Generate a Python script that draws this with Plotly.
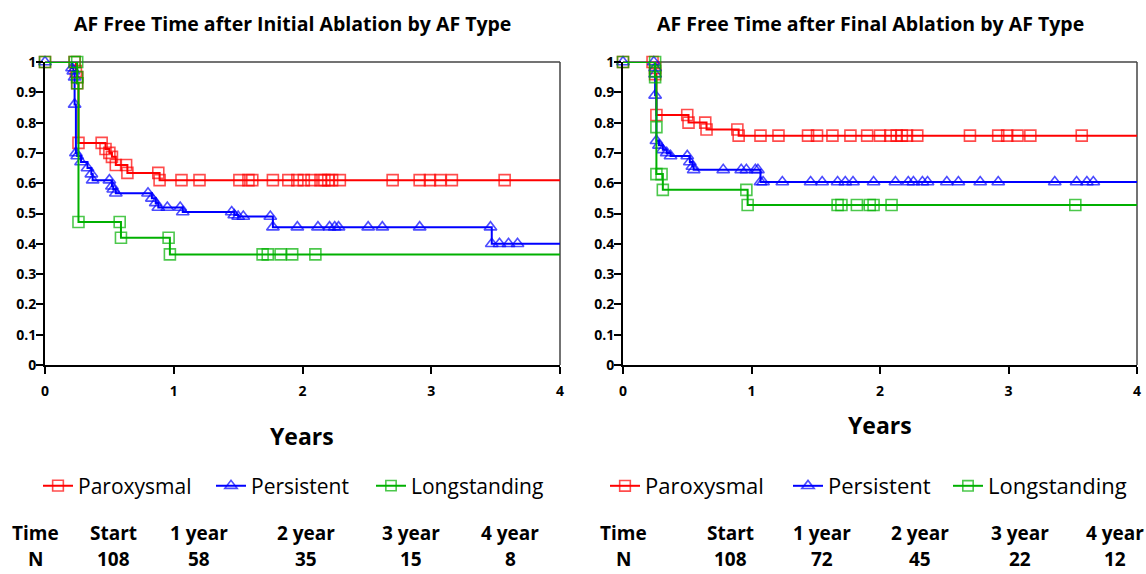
import plotly.graph_objects as go

# ---------------- data ----------------
# Left panel: after initial ablation
init_par_t = [0, 0.23, 0.24, 0.25, 0.25, 0.26, 0.44, 0.47, 0.50, 0.52, 0.55, 0.63, 0.64, 0.88, 0.89,
              1.06, 1.20, 1.51, 1.58, 1.61, 1.77, 1.89, 1.96, 2.01, 2.07, 2.14, 2.17, 2.20, 2.23, 2.29,
              2.70, 2.91, 2.99, 3.07, 3.16, 3.57, 4.0]
init_par_s = [1, 1, 0.97, 0.95, 0.93, 0.733, 0.733, 0.713, 0.70, 0.687, 0.66, 0.66, 0.634, 0.634, 0.61,
              0.61, 0.61, 0.61, 0.61, 0.61, 0.61, 0.61, 0.61, 0.61, 0.61, 0.61, 0.61, 0.61, 0.61, 0.61,
              0.61, 0.61, 0.61, 0.61, 0.61, 0.61, 0.61]

init_per_t = [0, 0.21, 0.22, 0.23, 0.23, 0.24, 0.25, 0.28, 0.33, 0.36, 0.37, 0.50, 0.52, 0.53, 0.55,
              0.80, 0.83, 0.86, 0.88, 0.95, 1.05, 1.07, 1.45, 1.47, 1.50, 1.54, 1.75, 1.77, 1.96, 2.12,
              2.21, 2.25, 2.28, 2.51, 2.62, 2.91, 3.46, 3.47, 3.53, 3.60, 3.67, 4.0]
init_per_s = [1, 0.98, 0.97, 0.95, 0.86, 0.70, 0.69, 0.67, 0.65, 0.63, 0.61, 0.61, 0.59, 0.58, 0.567,
              0.567, 0.55, 0.535, 0.52, 0.52, 0.52, 0.505, 0.505, 0.495, 0.49, 0.49, 0.49, 0.455, 0.455, 0.455,
              0.455, 0.455, 0.455, 0.455, 0.455, 0.455, 0.455, 0.40, 0.40, 0.40, 0.40, 0.40]

init_long_t = [0, 0.23, 0.25, 0.25, 0.25, 0.26, 0.58, 0.59, 0.96, 0.97, 1.69, 1.73, 1.83, 1.92, 2.10, 4.0]
init_long_s = [1, 1, 1, 0.95, 0.93, 0.472, 0.472, 0.42, 0.42, 0.365, 0.365, 0.365, 0.365, 0.365, 0.365, 0.365]

# Right panel: after final ablation
fin_par_t = [0, 0.23, 0.25, 0.25, 0.26, 0.50, 0.51, 0.64, 0.65, 0.89, 0.90, 1.07, 1.21, 1.44, 1.51,
             1.63, 1.77, 1.90, 2.00, 2.08, 2.13, 2.17, 2.21, 2.29, 2.70, 2.92, 2.99, 3.07, 3.17, 3.57, 4.0]
fin_par_s = [1, 1, 0.98, 0.96, 0.825, 0.825, 0.80, 0.80, 0.777, 0.777, 0.757, 0.757, 0.757, 0.757, 0.757,
             0.757, 0.757, 0.757, 0.757, 0.757, 0.757, 0.757, 0.757, 0.757, 0.757, 0.757, 0.757, 0.757, 0.757,
             0.757, 0.757]

fin_per_t = [0, 0.24, 0.25, 0.25, 0.25, 0.26, 0.28, 0.31, 0.34, 0.37, 0.50, 0.52, 0.54, 0.55, 0.78,
             0.92, 0.96, 1.03, 1.05, 1.07, 1.09, 1.24, 1.46, 1.55, 1.67, 1.73, 1.79, 1.95, 2.12, 2.22,
             2.26, 2.33, 2.37, 2.52, 2.61, 2.78, 2.92, 3.36, 3.53, 3.61, 3.66, 4.0]
fin_per_s = [1, 1, 0.98, 0.96, 0.89, 0.74, 0.725, 0.71, 0.70, 0.69, 0.69, 0.67, 0.655, 0.644, 0.644,
             0.644, 0.644, 0.644, 0.644, 0.604, 0.604, 0.604, 0.604, 0.604, 0.604, 0.604, 0.604, 0.604, 0.604,
             0.604, 0.604, 0.604, 0.604, 0.604, 0.604, 0.604, 0.604, 0.604, 0.604, 0.604, 0.604, 0.604]

fin_long_t = [0, 0.25, 0.25, 0.25, 0.26, 0.26, 0.30, 0.31, 0.96, 0.97, 1.67, 1.70, 1.82, 1.92, 1.95,
              2.09, 3.52, 4.0]
fin_long_s = [1, 1, 0.97, 0.95, 0.785, 0.63, 0.63, 0.578, 0.578, 0.528, 0.528, 0.528, 0.528, 0.528,
              0.528, 0.528, 0.528, 0.528]

series_names = ["Paroxysmal", "Persistent", "Longstanding"]
x_ticks = [0, 1, 2, 3, 4]
y_ticks = [0, 0.1, 0.2, 0.3, 0.4, 0.5, 0.6, 0.7, 0.8, 0.9, 1]
y_ticktext = ["0", "0.1", "0.2", "0.3", "0.4", "0.5", "0.6", "0.7", "0.8", "0.9", "1"]

table_head = ["Time", "Start", "1 year", "2 year", "3 year", "4 year"]
init_N = ["N", "108", "58", "35", "15", "8"]
fin_N = ["N", "108", "72", "45", "22", "12"]

titles = ["AF Free Time after Initial Ablation by AF Type",
          "AF Free Time after Final Ablation by AF Type"]

# ---------------- styling ----------------
W, H = 1146, 574
FONT = "Open Sans"
colors = ["#FF0000", "#0000FF", "#00B000"]
symbols = ["square-open", "triangle-up-open", "square-open"]

def px_x(p):
    return p / W

def px_y(p):
    return 1 - p / H

fig = go.Figure()

# legend entry positions (pixel x of each legend line start), per panel
legend_x_px = [[45, 218, 378], [612, 795, 955]]
legend_font_size = [21, 22]

panels = [
    (("x", "y"), [(init_par_t, init_par_s), (init_per_t, init_per_s), (init_long_t, init_long_s)]),
    (("x2", "y2"), [(fin_par_t, fin_par_s), (fin_per_t, fin_per_s), (fin_long_t, fin_long_s)]),
]

legend_layout = {}
k = 0
for p, ((xa, ya), series) in enumerate(panels):
    for i, (t, s) in enumerate(series):
        k += 1
        leg = "legend" if k == 1 else f"legend{k}"
        legend_layout[leg] = dict(
            x=px_x(legend_x_px[p][i] - 7), y=px_y(486), xanchor="left", yanchor="middle",
            orientation="h", bgcolor="rgba(0,0,0,0)",
            font=dict(family=FONT, size=legend_font_size[p], color="black"))
        sizes = [11] * (len(t) - 1) + [0]
        fig.add_trace(go.Scatter(
            x=t, y=s, name=series_names[i], mode="lines+markers",
            line=dict(color=colors[i], width=2, shape="hv"),
            marker=dict(symbol=symbols[i], size=sizes, color=colors[i],
                        line=dict(color=colors[i], width=1.6)),
            xaxis=xa, yaxis=ya, legend=leg, cliponaxis=False,
        ))

xdom1 = [px_x(45), px_x(560)]
xdom2 = [px_x(623), px_x(1137)]
ydom = [px_y(365), px_y(62)]

tickfont = dict(family=FONT, size=14, color="black", weight="bold")

def main_x(dom, anchor):
    return dict(domain=dom, range=[0, 4], anchor=anchor, tickvals=x_ticks,
                ticktext=[str(v) for v in x_ticks], ticks="outside", ticklen=7, tickwidth=2,
                tickcolor="black", showline=True, linecolor="black", linewidth=2,
                showgrid=False, zeroline=False, tickfont=tickfont, fixedrange=True,
                automargin=False, ticklabelstandoff=5)

def main_y(anchor):
    return dict(domain=ydom, range=[0, 1], anchor=anchor, tickvals=y_ticks,
                ticktext=y_ticktext, ticks="outside", ticklen=7, tickwidth=2,
                tickcolor="black", showline=True, linecolor="black", linewidth=2,
                showgrid=False, zeroline=False, tickfont=tickfont, fixedrange=True,
                automargin=False, ticklabelstandoff=-3)

def over_x(dom, over, anchor):
    return dict(domain=dom, range=[0, 4], overlaying=over, anchor=anchor, tickvals=x_ticks,
                ticks="inside", ticklen=7, tickwidth=2, tickcolor="black",
                showticklabels=False, showline=False, showgrid=False, zeroline=False,
                automargin=False)

def over_y(over, anchor):
    return dict(domain=ydom, range=[0, 1], overlaying=over, anchor=anchor, tickvals=y_ticks,
                ticks="inside", ticklen=7, tickwidth=2, tickcolor="black",
                showticklabels=False, showline=False, showgrid=False, zeroline=False,
                automargin=False)

fig.update_layout(
    template="none",
    width=W, height=H, margin=dict(l=0, r=0, t=0, b=0, autoexpand=False),
    paper_bgcolor="white", plot_bgcolor="white",
    font=dict(family=FONT, color="black"),
    xaxis=main_x(xdom1, "y"), yaxis=main_y("x"),
    xaxis2=main_x(xdom2, "y2"), yaxis2=main_y("x2"),
    xaxis3=over_x(xdom1, "x", "y"), yaxis3=over_y("y", "x"),
    xaxis4=over_x(xdom2, "x2", "y2"), yaxis4=over_y("y2", "x2"),
    showlegend=True,
    **legend_layout,
)

# frame lines on top and right of each plot
for xr, yr in [("x", "y"), ("x2", "y2")]:
    fig.add_shape(type="line", xref=f"{xr} domain", yref=f"{yr} domain", x0=0, x1=1, y0=1, y1=1,
                  line=dict(color="#444444", width=1.5), layer="below")
    fig.add_shape(type="line", xref=f"{xr} domain", yref=f"{yr} domain", x0=1, x1=1, y0=0, y1=1,
                  line=dict(color="#444444", width=1.5), layer="below")

# titles
for txt, cx in zip(titles, [292, 870]):
    fig.add_annotation(text=txt, x=px_x(cx), y=px_y(23), xref="paper", yref="paper",
                       showarrow=False, xanchor="center", yanchor="middle",
                       font=dict(family=FONT, size=19.5, color="black", weight="bold"))

# axis titles
for cx, cy in [(302, 436), (880, 425)]:
    fig.add_annotation(text="Years", x=px_x(cx), y=px_y(cy), xref="paper", yref="paper",
                       showarrow=False, xanchor="center", yanchor="middle",
                       font=dict(family=FONT, size=23, color="black", weight="bold"))

# number-at-risk tables
col_left = [35, 113, 199, 306, 411, 510]
col_right = [623, 730, 822, 920, 1020, 1115]
for cols, nrow in [(col_left, init_N), (col_right, fin_N)]:
    for cx, head, n in zip(cols, table_head, nrow):
        fig.add_annotation(text=head, x=px_x(cx), y=px_y(533), xref="paper", yref="paper",
                           showarrow=False, xanchor="center", yanchor="middle",
                           font=dict(family=FONT, size=19, color="black", weight="bold"))
        fig.add_annotation(text=n, x=px_x(cx), y=0, xref="paper", yref="paper",
                           showarrow=False, xanchor="center", yanchor="bottom",
                           font=dict(family=FONT, size=19, color="black", weight="bold"))

fig.write_html("out.html", config={"displayModeBar": False},
               post_script="document.body.style.margin='0';document.body.style.padding='0';")
